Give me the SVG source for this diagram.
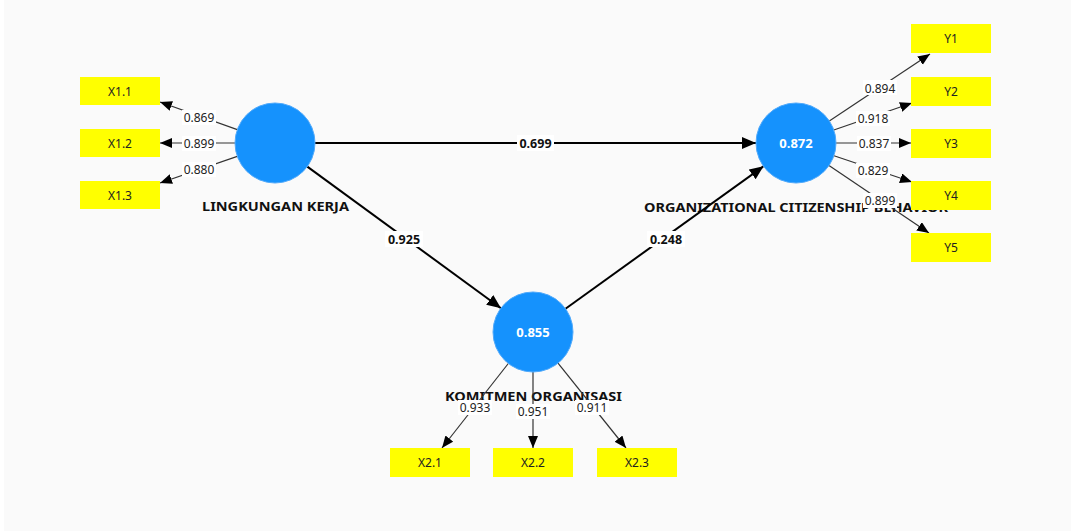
<svg xmlns="http://www.w3.org/2000/svg" width="1071" height="531" viewBox="0 0 1071 531">
<defs>
<marker id="ah" markerUnits="userSpaceOnUse" markerWidth="14" markerHeight="12" refX="12" refY="5" orient="auto"><path d="M0,0 L12,5 L0,10 Z" fill="#000"/></marker>
<marker id="ahs" markerUnits="userSpaceOnUse" markerWidth="16" markerHeight="14" refX="14" refY="6" orient="auto"><path d="M0,0 L14,6 L0,12 Z" fill="#000"/></marker>
</defs>
<style>
.ind{stroke:#333;stroke-width:1.2;fill:none;marker-end:url(#ah)}
.str{stroke:#000;stroke-width:2;fill:none;marker-end:url(#ahs)}
.lv{fill:#1592fd;stroke:#4fa9fb;stroke-width:1}
.box{fill:#ffff00}
.bt{font-family:"Noto Sans","Open Sans",sans-serif;font-size:12px;fill:#222;text-anchor:middle;dominant-baseline:central}
.vt{font-family:"Noto Sans","Open Sans",sans-serif;font-size:13px;font-weight:bold;fill:#fff;text-anchor:middle;dominant-baseline:central}
.nl{font-family:"Noto Sans","Open Sans",sans-serif;font-size:13px;font-weight:bold;fill:#111;text-anchor:middle}
.lb{fill:#fff}
.il{font-family:"Noto Sans","Open Sans",sans-serif;font-size:12px;fill:#222;text-anchor:middle;dominant-baseline:central}
.sl{font-family:"Noto Sans","Open Sans",sans-serif;font-size:12.5px;font-weight:bold;fill:#111;text-anchor:middle;dominant-baseline:central}
</style>
<rect x="4" y="0" width="1067" height="531" fill="#fafafa"/>
<g id="node-labels">
<text class="nl" x="275.5" y="211" textLength="147" lengthAdjust="spacingAndGlyphs">LINGKUNGAN KERJA</text>
<text class="nl" x="796" y="212" textLength="304" lengthAdjust="spacingAndGlyphs">ORGANIZATIONAL CITIZENSHIP BEHAVIOR</text>
<text class="nl" x="533.5" y="401" textLength="177" lengthAdjust="spacingAndGlyphs">KOMITMEN ORGANISASI</text>
</g>
<g id="connectors">
<line class="ind" x1="237.3" y1="129.6" x2="160" y2="102"/>
<line class="ind" x1="235" y1="143" x2="160" y2="143"/>
<line class="ind" x1="237.3" y1="156.4" x2="160" y2="183"/>
<line class="ind" x1="829.3" y1="120.9" x2="930" y2="54"/>
<line class="ind" x1="833.8" y1="130" x2="912" y2="103"/>
<line class="ind" x1="836" y1="143" x2="911" y2="143"/>
<line class="ind" x1="834" y1="155.8" x2="912" y2="182"/>
<line class="ind" x1="829" y1="165.4" x2="929" y2="233"/>
<line class="ind" x1="508.3" y1="363.5" x2="442" y2="448"/>
<line class="ind" x1="533" y1="372" x2="533" y2="448"/>
<line class="ind" x1="558" y1="363.2" x2="626" y2="448"/>
<line class="str" x1="315" y1="143" x2="756" y2="143"/>
<line class="str" x1="307.3" y1="166.6" x2="501" y2="308.2"/>
<line class="str" x1="565.5" y1="308.7" x2="763.5" y2="166.3"/>
<rect class="lb" x="182" y="110" width="34" height="15"/><text class="il" x="199" y="117.5">0.869</text>
<rect class="lb" x="182" y="136" width="34" height="15"/><text class="il" x="199" y="143">0.899</text>
<rect class="lb" x="182" y="162" width="34" height="15"/><text class="il" x="199" y="169.5">0.880</text>
<rect class="lb" x="863" y="80" width="34" height="15"/><text class="il" x="880" y="88">0.894</text>
<rect class="lb" x="856" y="111" width="34" height="15"/><text class="il" x="873" y="118">0.918</text>
<rect class="lb" x="857" y="136" width="34" height="15"/><text class="il" x="874" y="143">0.837</text>
<rect class="lb" x="856" y="163" width="34" height="15"/><text class="il" x="873" y="170">0.829</text>
<rect class="lb" x="863" y="193" width="34" height="15"/><text class="il" x="880" y="200">0.899</text>
<rect class="lb" x="458" y="400" width="34" height="15"/><text class="il" x="475" y="407">0.933</text>
<rect class="lb" x="516" y="404" width="34" height="15"/><text class="il" x="533" y="411.5">0.951</text>
<rect class="lb" x="575" y="400" width="34" height="15"/><text class="il" x="592" y="407">0.911</text>
<rect class="lb" x="517" y="135" width="37" height="16"/><text class="sl" x="535.5" y="143">0.699</text>
<rect class="lb" x="385" y="231" width="38" height="16"/><text class="sl" x="404" y="239">0.925</text>
<rect class="lb" x="647" y="231" width="38" height="16"/><text class="sl" x="666" y="239">0.248</text>
</g>
<g id="LK"><circle class="lv" cx="275" cy="143" r="40"/></g>
<g id="OCB"><circle class="lv" cx="796" cy="143" r="40"/><text class="vt" x="796" y="143">0.872</text></g>
<g id="KO"><circle class="lv" cx="533" cy="332" r="40"/><text class="vt" x="533" y="332">0.855</text></g>
<g id="X1.1"><rect class="box" x="80" y="77" width="80" height="28"/><text class="bt" x="120" y="91">X1.1</text></g>
<g id="X1.2"><rect class="box" x="80" y="129" width="80" height="28"/><text class="bt" x="120" y="143">X1.2</text></g>
<g id="X1.3"><rect class="box" x="80" y="181" width="80" height="28"/><text class="bt" x="120" y="195">X1.3</text></g>
<g id="Y1"><rect class="box" x="911" y="24" width="80" height="29"/><text class="bt" x="951" y="38.5">Y1</text></g>
<g id="Y2"><rect class="box" x="911" y="77" width="80" height="29"/><text class="bt" x="951" y="91.5">Y2</text></g>
<g id="Y3"><rect class="box" x="911" y="129" width="80" height="29"/><text class="bt" x="951" y="143.5">Y3</text></g>
<g id="Y4"><rect class="box" x="911" y="181" width="80" height="29"/><text class="bt" x="951" y="195.5">Y4</text></g>
<g id="Y5"><rect class="box" x="911" y="233" width="80" height="29"/><text class="bt" x="951" y="247.5">Y5</text></g>
<g id="X2.1"><rect class="box" x="390" y="448" width="80" height="29"/><text class="bt" x="430" y="462.5">X2.1</text></g>
<g id="X2.2"><rect class="box" x="493" y="448" width="80" height="29"/><text class="bt" x="533" y="462.5">X2.2</text></g>
<g id="X2.3"><rect class="box" x="597" y="448" width="80" height="29"/><text class="bt" x="637" y="462.5">X2.3</text></g>
</svg>
